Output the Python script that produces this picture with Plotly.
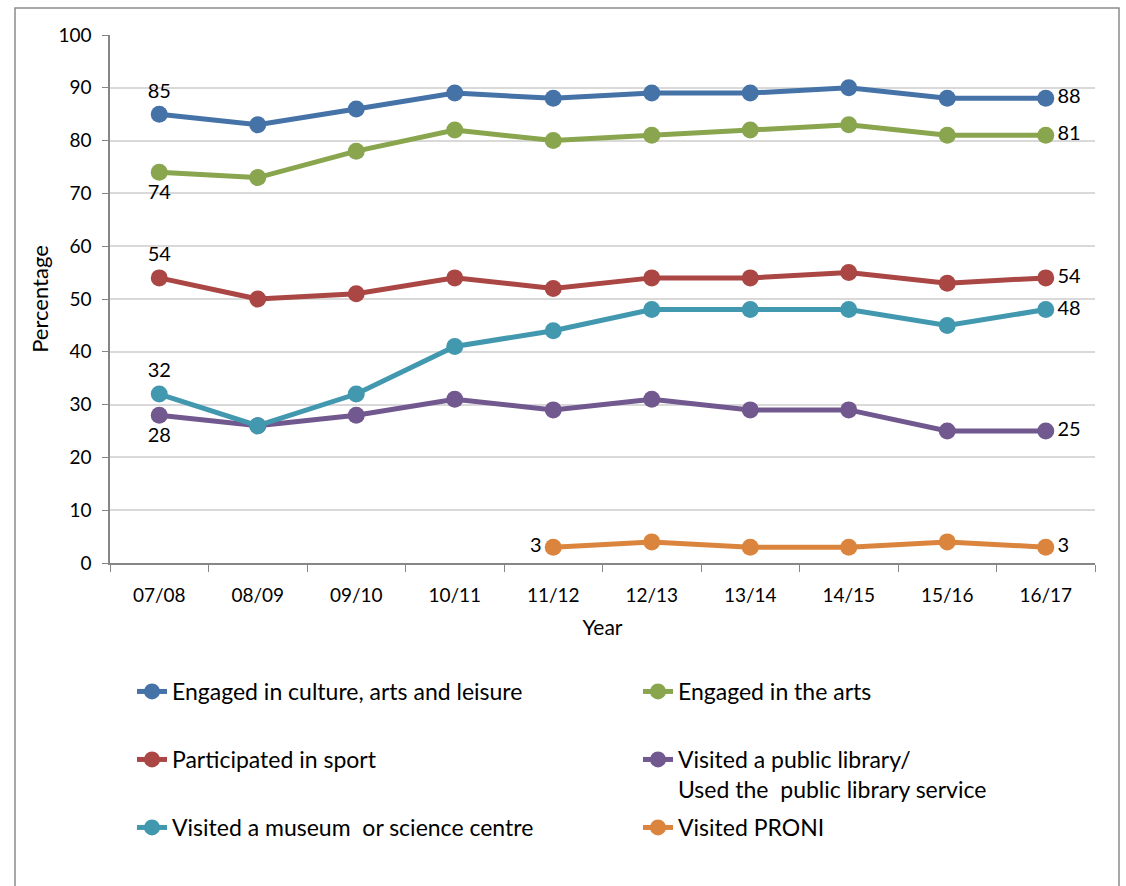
import plotly.graph_objects as go

years = ["07/08", "08/09", "09/10", "10/11", "11/12", "12/13", "13/14", "14/15", "15/16", "16/17"]

culture = [85, 83, 86, 89, 88, 89, 89, 90, 88, 88]
arts = [74, 73, 78, 82, 80, 81, 82, 83, 81, 81]
sport = [54, 50, 51, 54, 52, 54, 54, 55, 53, 54]
library = [28, 26, 28, 31, 29, 31, 29, 29, 25, 25]
museum = [32, 26, 32, 41, 44, 48, 48, 48, 45, 48]
proni = [None, None, None, None, 3, 4, 3, 3, 4, 3]

names = [
    "Engaged in culture, arts and leisure",
    "Engaged in the arts",
    "Participated in sport",
    "Visited a public library/<br>Used the  public library service",
    "Visited a museum  or science centre",
    "Visited PRONI",
]

W, H = 1126, 886
L, R, T, B = 110, 1095, 35, 563  # plot area in pixels

FONT = "Lato, 'Open Sans', sans-serif"

colors = ["#4572A7", "#89A54E", "#AA4643", "#71588F", "#4198AF", "#DB843D"]
series = [culture, arts, sport, library, museum, proni]
first_pos = ["top center", "bottom center", "top center", "bottom center", "top center", "middle left"]

# legend placement (pixels): (legend x start, row center y)
leg_px = [(132, 687), (638, 687), (132, 755), (638, 755), (132, 823), (638, 823)]


def px_to_paper_x(px):
    return (px - L) / (R - L)


def px_to_paper_y(py):
    return (B - py) / (B - T)


fig = go.Figure()
for i, (vals, col, name) in enumerate(zip(series, colors, names)):
    idx = [k for k, v in enumerate(vals) if v is not None]
    first, last = idx[0], idx[-1]
    texts = []
    positions = []
    for k, v in enumerate(vals):
        if k == first:
            texts.append(str(v))
            positions.append(first_pos[i])
        elif k == last:
            texts.append(str(v))
            positions.append("middle right")
        else:
            texts.append("")
            positions.append("middle right")
    fig.add_trace(go.Scatter(
        x=years, y=vals, name=name,
        mode="lines+markers+text",
        line=dict(color=col, width=5),
        marker=dict(color=col, size=17),
        text=texts, textposition=positions,
        textfont=dict(family=FONT, size=20, color="#000000"),
        cliponaxis=False,
        legend="legend" if i == 0 else f"legend{i+1}",
        connectgaps=False,
    ))

layout_legends = {}
for i, (lx, ly) in enumerate(leg_px):
    key = "legend" if i == 0 else f"legend{i+1}"
    layout_legends[key] = dict(
        x=px_to_paper_x(lx), y=px_to_paper_y(ly - 17),
        xanchor="left", yanchor="top",
        font=dict(family=FONT, size=23, color="#000000"),
        bgcolor="rgba(0,0,0,0)", valign="top",
    )

fig.update_layout(
    width=W, height=H,
    margin=dict(l=L, r=W - R, t=T, b=H - B),
    paper_bgcolor="white", plot_bgcolor="white",
    showlegend=True,
    font=dict(family=FONT, color="#000000"),
    **layout_legends,
)

fig.update_xaxes(
    type="category",
    showline=True, linecolor="#868686", linewidth=1.5,
    ticks="outside", tickson="boundaries", ticklen=7, tickcolor="#868686",
    ticklabelstandoff=14,
    showgrid=False,
    tickfont=dict(family=FONT, size=19, color="#000000"),
    title=dict(text="Year", font=dict(family=FONT, size=21, color="#000000"), standoff=16),
    range=[-0.5, len(years) - 0.5],
)
fig.update_yaxes(
    range=[0, 100], dtick=10,
    showline=True, linecolor="#868686", linewidth=1.5,
    ticks="outside", ticklen=6, tickcolor="#868686",
    ticklabelstandoff=7,
    showgrid=True, gridcolor="#D9D9D9", gridwidth=1.5,
    zeroline=False,
    tickfont=dict(family=FONT, size=19, color="#000000"),
    title=dict(text="Percentage", font=dict(family=FONT, size=22, color="#000000"), standoff=4),
)

# outer chart frame
fig.add_shape(
    type="rect", xref="paper", yref="paper",
    x0=px_to_paper_x(15), x1=px_to_paper_x(1119),
    y0=px_to_paper_y(900), y1=px_to_paper_y(8),
    line=dict(color="#8C8C8C", width=1.5), fillcolor="rgba(0,0,0,0)",
    layer="below",
)

fig.write_html("out.html")
